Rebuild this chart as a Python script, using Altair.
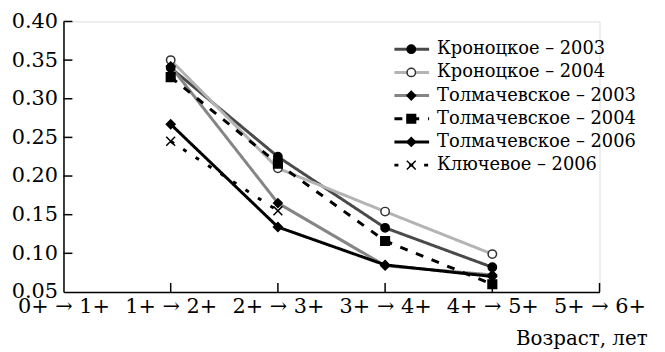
import altair as alt
import pandas as pd

ages = ["0+ → 1+", "1+ → 2+", "2+ → 3+", "3+ → 4+", "4+ → 5+", "5+ → 6+"]
series = ["Кроноцкое – 2003", "Кроноцкое – 2004", "Толмачевское – 2003",
          "Толмачевское – 2004", "Толмачевское – 2006", "Ключевое – 2006"]

kr2003 = [0.340, 0.225, 0.133, 0.082]
kr2004 = [0.350, 0.210, 0.154, 0.099]
tm2003 = [0.342, 0.165, 0.084, 0.072]
tm2004 = [0.328, 0.216, 0.116, 0.060]
tm2006 = [0.267, 0.134, 0.085, 0.070]
kl2006 = [0.245, 0.155]

data_ages = ages[1:5]
values = [kr2003, kr2004, tm2003, tm2004, tm2006, kl2006]
y_labels = [0.05, 0.10, 0.15, 0.20, 0.25, 0.30, 0.35, 0.40]
y_ticks = y_labels[1:]

rows = []
for s, vals in zip(series, values):
    for a, v in zip(data_ages, vals):
        rows.append({"age": a, "value": v, "series": s})
df = pd.DataFrame(rows)
leg = pd.DataFrame({"series": series})
xt = pd.DataFrame({"age": ages[1:]})
yt = pd.DataFrame({"value": y_ticks})

FONT = "DejaVu Serif"
W, H = 541, 273

xscale = alt.Scale(type="point", domain=ages, padding=0)
yscale = alt.Scale(domain=[0.05, 0.40], zero=False, nice=False)

color = alt.Color("series:N", legend=None, scale=alt.Scale(
    domain=series, range=["#4a4a4a", "#b4b4b4", "#858585", "#000000", "#000000", "#000000"]))
dash = alt.StrokeDash("series:N", legend=None, scale=alt.Scale(
    domain=series, range=[[1, 0], [1, 0], [1, 0], [8, 9], [1, 0], [4, 11]]))
sw = alt.StrokeWidth("series:N", legend=None, scale=alt.Scale(
    domain=series, range=[3, 3, 2.2, 2, 2.2, 2]))
xpath = "M-1,-1L1,1M-1,1L1,-1"
shape = alt.Shape("series:N", legend=None, scale=alt.Scale(
    domain=series, range=["circle", "circle", "diamond", "square", "diamond", xpath]))
fill = alt.Fill("series:N", legend=None, scale=alt.Scale(
    domain=series, range=["#000000", "#ffffff", "#000000", "#000000", "#000000", "transparent"]))
stroke = alt.Stroke("series:N", legend=None, scale=alt.Scale(
    domain=series, range=["#000000", "#333333", "#000000", "#000000", "#000000", "#000000"]))
size = alt.Size("series:N", legend=None, scale=alt.Scale(
    domain=series, range=[70, 80, 130, 70, 35, 30]))

X = alt.X("age:N", scale=xscale, sort=ages, title="Возраст, лет", axis=alt.Axis(
    title="Возраст, лет", labelAngle=0, ticks=False, labelPadding=4, labelOverlap=False,
    labelFont=FONT, labelFontSize=21, labelColor="black", labelBaseline="top",
    titleFont=FONT, titleFontSize=20, titleFontWeight="normal", titleColor="black",
    titleAlign="right", titleAnchor="end", titleX=589, titleY=53, titleBaseline="alphabetic",
    domainColor="black", domainWidth=1.5, grid=False))
Y = alt.Y("value:Q", scale=yscale, title=None, axis=alt.Axis(
    title=None, values=y_labels, format=".2f", labelOverlap=False,
    ticks=False, labelPadding=6, labelFont=FONT, labelFontSize=21, labelColor="black",
    domainColor="black", domainWidth=1.5, grid=False))

lines = alt.Chart(df).mark_line().encode(
    x=X, y=Y, color=color, strokeDash=dash, strokeWidth=sw, detail="series:N")
points = alt.Chart(df).mark_point(filled=True, strokeWidth=1.5, opacity=1).encode(
    x=X, y=Y, shape=shape, fill=fill, stroke=stroke, size=size)
xticks = alt.Chart(xt).mark_rule(color="black", strokeWidth=1.5).encode(
    x=X, y=alt.value(H), y2=alt.value(H - 9))
yticks = alt.Chart(yt).mark_rule(color="black", strokeWidth=1.5).encode(
    y=Y, x=alt.value(0), x2=alt.value(9))

main = alt.layer(lines, points, xticks, yticks)

ly = alt.Y("series:N", sort=series, axis=None,
           scale=alt.Scale(type="point", range=[28, 145], padding=0))
leg_rule = alt.Chart(leg).mark_rule().encode(
    y=ly, x=alt.value(334), x2=alt.value(369), color=color, strokeDash=dash, strokeWidth=sw)
leg_pts = alt.Chart(leg).mark_point(filled=True, strokeWidth=1.5, opacity=1).encode(
    y=ly, x=alt.value(351), shape=shape, fill=fill, stroke=stroke, size=size)
leg_txt = alt.Chart(leg).mark_text(align="left", baseline="middle", font=FONT,
                                   fontSize=18, color="black").encode(
    y=ly, x=alt.value(377), text="series:N")
legend = alt.layer(leg_rule, leg_pts, leg_txt)

chart = alt.layer(main, legend).resolve_scale(y="independent").properties(
    width=W, height=H,
    autosize=alt.AutoSizeParams(type="none"),
    padding={"left": 56, "top": 12, "right": 58, "bottom": 58},
).configure_view(stroke=None, strokeWidth=0).configure(background="white", font=FONT)

chart.save("out.html", embed_options={"renderer": "svg", "actions": False})
